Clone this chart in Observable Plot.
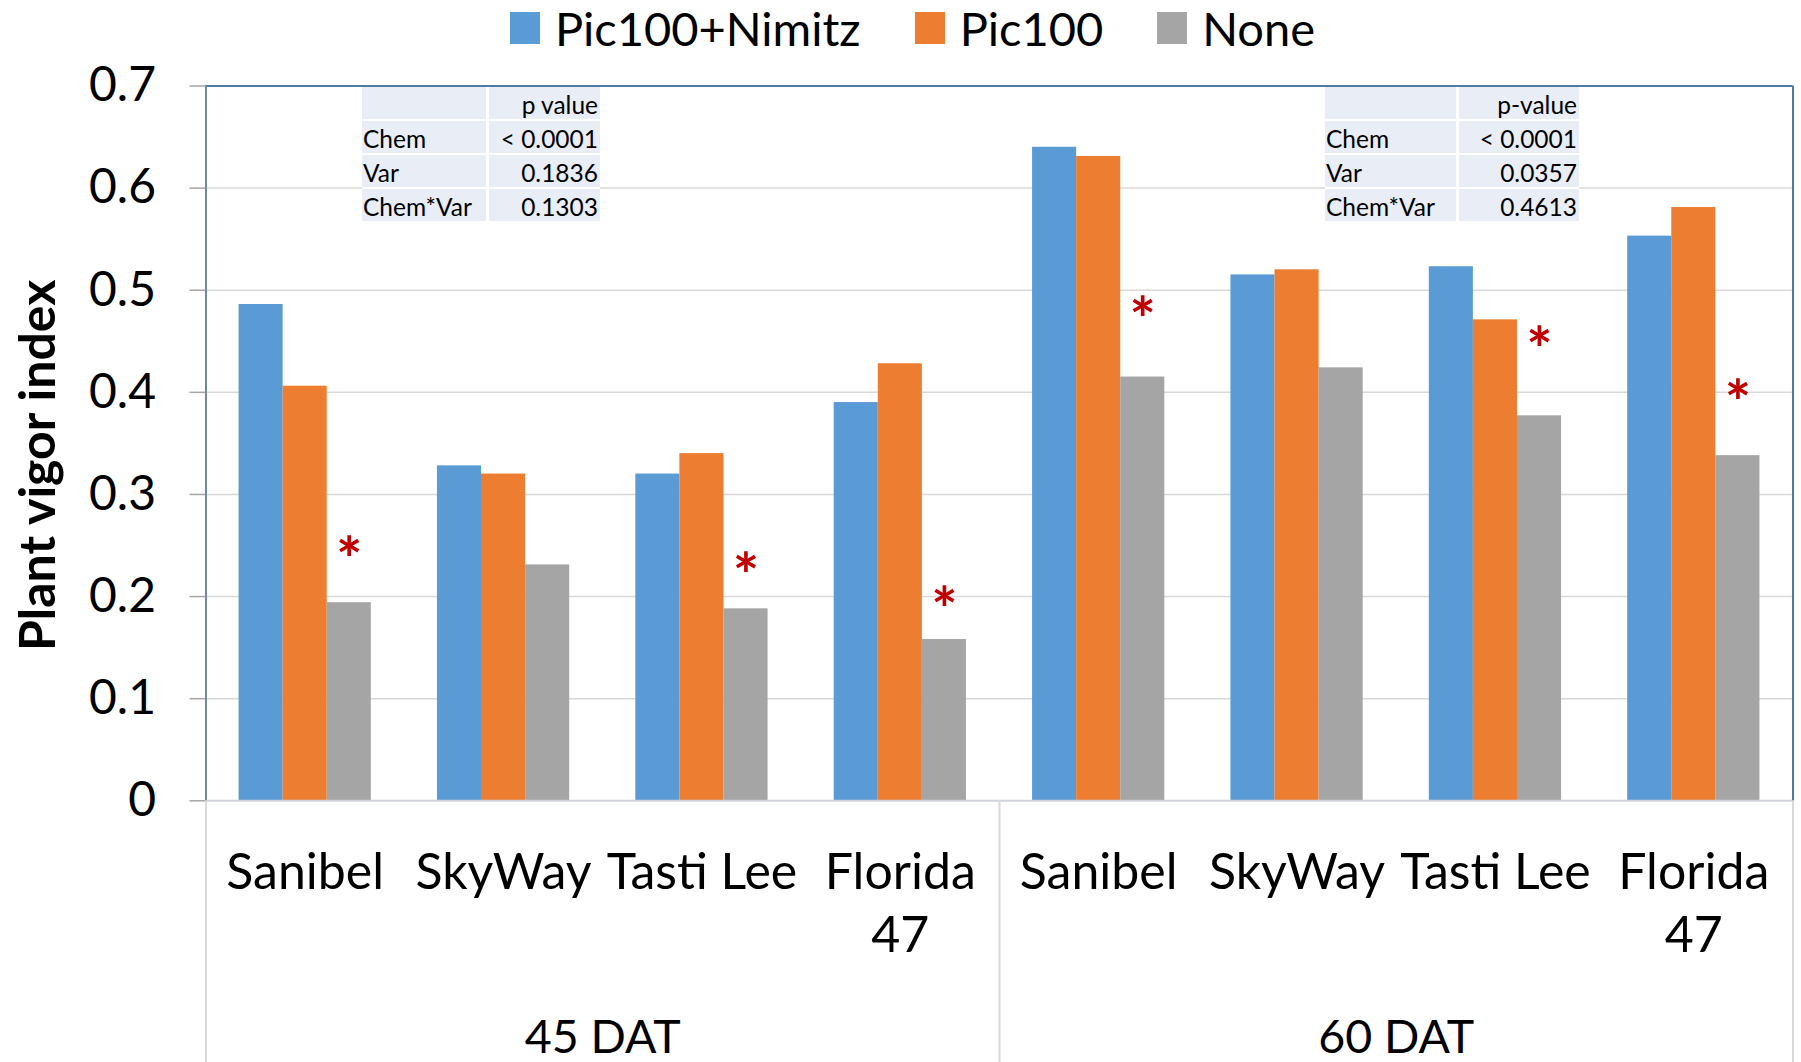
<!DOCTYPE html>
<html>
<head>
<meta charset="utf-8">
<script src="https://cdn.jsdelivr.net/npm/d3@7"></script>
<script src="https://cdn.jsdelivr.net/npm/@observablehq/plot@0.6"></script>
<style>
  html, body { margin: 0; padding: 0; background: #fff; }
  body { font-family: Lato, "Noto Sans", sans-serif; color: #000; }
  #wrap { position: relative; width: 1801px; height: 1062px; overflow: hidden; }
  #legend { height: 46px; display: flex; align-items: flex-start; justify-content: center; padding-left: 24px; box-sizing: border-box; overflow: visible; }
  .item { display: flex; align-items: center; margin: 0 27px; height: 56px; }
  .sw { width: 30px; height: 32px; margin-right: 15px; }
  .lab { font-size: 47px; line-height: 56px; }
  #chart svg { display: block; }
  .ptable { position: absolute; display: grid; row-gap: 2px; column-gap: 3px; background: #fff; font-size: 24.5px; }
  .ptable div { background: #E9EDF5; height: 32px; line-height: 32px; padding: 2px 2px 0 1px; box-sizing: border-box; white-space: nowrap; }
  .ptable div.num { text-align: right; }
  #t45 { left: 362px; top: 87px; grid-template-columns: 124px 111px; }
  #t60 { left: 1325px; top: 87px; grid-template-columns: 131px 120px; }
</style>
</head>
<body>
<div id="wrap">
  <div id="legend"></div>
  <div id="chart"></div>
  <div class="ptable" id="t45"></div>
  <div class="ptable" id="t60"></div>
</div>
<script>
// ---------- data ----------
const categories = ["Sanibel", "SkyWay", "Tasti Lee", "Florida\n47", "Sanibel", "SkyWay", "Tasti Lee", "Florida\n47"];
const groups = ["45 DAT", "60 DAT"];
const seriesNames = ["Pic100+Nimitz", "Pic100", "None"];
const seriesColors = ["#5B9BD5", "#ED7D31", "#A5A5A5"];
const pic100Nimitz = [0.486, 0.328, 0.320, 0.390, 0.640, 0.515, 0.523, 0.553];
const pic100       = [0.406, 0.320, 0.340, 0.428, 0.631, 0.520, 0.471, 0.581];
const none         = [0.194, 0.231, 0.188, 0.158, 0.415, 0.424, 0.377, 0.338];
const starLevels   = [0.251, null, 0.235, 0.202, 0.486, null, 0.456, 0.404];
const yTicks = [0, 0.1, 0.2, 0.3, 0.4, 0.5, 0.6, 0.7];
const yLabel = "Plant vigor index";
const table45 = [["", "p value"], ["Chem", "< 0.0001"], ["Var", "0.1836"], ["Chem*Var", "0.1303"]];
const table60 = [["", "p-value"], ["Chem", "< 0.0001"], ["Var", "0.0357"], ["Chem*Var", "0.4613"]];

// ---------- derived tables ----------
const seriesValues = [pic100Nimitz, pic100, none];
const nCat = categories.length;
const barFrac = 2 / 9;      // each bar = 2/9 of a category slot (gap width 150%)
const lead = 1 / 6;         // leading gap inside each category slot
const rows = [];
seriesValues.forEach((vals, s) => vals.forEach((v, i) => rows.push({i, s, series: seriesNames[s], value: v})));
const stars = starLevels.map((v, i) => ({i, v})).filter(d => d.v != null);
const catRows = categories.map((c, i) => ({i, c}));
const groupRows = groups.map((g, k) => ({k, g}));

// ---------- legend ----------
const legend = document.getElementById("legend");
seriesNames.forEach((name, s) => {
  const it = document.createElement("div"); it.className = "item";
  const sw = document.createElement("div"); sw.className = "sw"; sw.style.background = seriesColors[s];
  const lb = document.createElement("div"); lb.className = "lab"; lb.textContent = name;
  it.appendChild(sw); it.appendChild(lb); legend.appendChild(it);
});

// ---------- tables ----------
function buildTable(id, data) {
  const el = document.getElementById(id);
  data.forEach(r => r.forEach((c, j) => {
    const d = document.createElement("div");
    d.textContent = c; if (j === 1) d.className = "num";
    el.appendChild(d);
  }));
}
buildTable("t45", table45);
buildTable("t60", table60);

// ---------- chart ----------
const fs = 50;
const lh = 1.28;
const starSize = 62;
const chart = Plot.plot({
  width: 1801,
  height: 1016,
  marginLeft: 205.5,
  marginRight: 8.5,
  marginTop: 39.5,
  marginBottom: 261.7,
  style: {fontFamily: "Lato, 'Noto Sans', sans-serif", fontSize: "48px", color: "#000", background: "#fff", overflow: "visible"},
  x: {domain: [0, nCat], axis: null},
  y: {domain: [0, 0.7], ticks: yTicks, tickSize: 0, tickPadding: 50, tickFormat: d => String(d), label: null},
  color: {domain: seriesNames, range: seriesColors},
  marks: [
    Plot.ruleY(yTicks.slice(1, -1), {stroke: "#d9d9d9", strokeWidth: 1.5}),
    Plot.rectY(rows, {
      x1: d => d.i + lead + d.s * barFrac,
      x2: d => d.i + lead + (d.s + 1) * barFrac,
      y1: 0, y2: "value",
      fill: "series"
    }),
    Plot.ruleY([0], {stroke: "#d0d4da", strokeWidth: 2}),
    Plot.ruleY(yTicks, {x1: 0, x2: 0, insetLeft: -16, stroke: "#a6a6a6", strokeWidth: 1.5}),
    Plot.ruleX([0, nCat / 2, nCat], {y1: 0, y2: -0.3, stroke: "#d9d9d9", strokeWidth: 2}),
    Plot.ruleY([0.7], {stroke: "#4e7aa6", strokeWidth: 2}),
    Plot.ruleX([0], {y1: 0, y2: 0.7, stroke: "#72889f", strokeWidth: 2}),
    Plot.ruleX([nCat], {y1: 0, y2: 0.7, stroke: "#4e7aa6", strokeWidth: 2}),
    Plot.text(stars, {
      x: d => d.i + lead + 2.5 * barFrac, y: "v", text: () => "*",
      fill: "#C00000", fontSize: starSize, fontWeight: "bold", lineAnchor: "middle", dy: 0.28 * starSize
    }),
    Plot.text(catRows, {
      x: d => d.i + 0.5, y: () => 0, text: "c",
      fontSize: fs, lineHeight: lh, lineAnchor: "top", dy: 87.7 - 0.71 * lh * fs, fill: "#000"
    }),
    Plot.text(groupRows, {
      x: d => d.k * nCat / 2 + nCat / 4, y: () => 0, text: "g",
      fontSize: 46.5, lineAnchor: "bottom", dy: 251.7, fill: "#000"
    }),
    Plot.text([yLabel], {
      frameAnchor: "left", textAnchor: "middle", lineAnchor: "middle", rotate: -90,
      dx: -167, dy: 22, fontSize: 50, fontWeight: "bold", fill: "#000"
    })
  ]
});
document.getElementById("chart").appendChild(chart);
</script>
</body>
</html>
